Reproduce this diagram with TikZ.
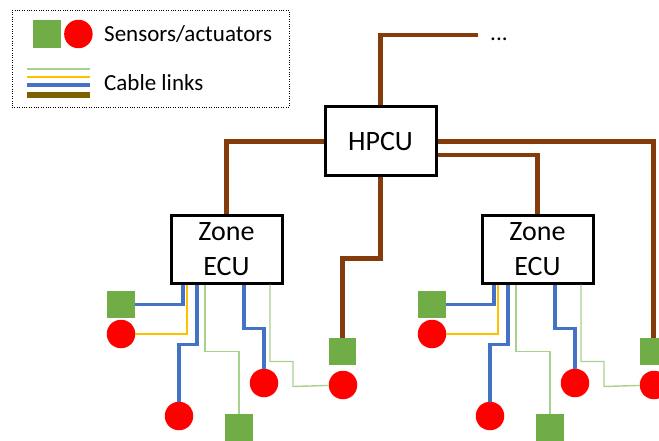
\documentclass[tikz,border=0pt]{standalone}
\usepackage{fontspec}
\setmainfont{Carlito}
\usetikzlibrary{positioning,calc}
\definecolor{zcSensor}{HTML}{70AD47}
\definecolor{zcActuator}{HTML}{FF0000}
\definecolor{zcEth}{HTML}{4472C4}
\definecolor{zcCan}{HTML}{FFC000}
\definecolor{zcLin}{HTML}{A9D18E}
\definecolor{zcBackbone}{HTML}{843C0C}
\definecolor{zcLegendBrown}{HTML}{7F6000}
\tikzset{
  ecu/.style={
    draw, line width=3pt, fill=white, align=center, inner sep=0pt,
    font=\fontsize{28}{35}\selectfont
  },
  zonebox/.style={ecu, minimum width=111, minimum height=68},
  hpcubox/.style={ecu, minimum width=111, minimum height=69},
  sensor/.style={rectangle, fill=zcSensor, minimum size=27.5, inner sep=0pt},
  actuator/.style={circle, fill=zcActuator, minimum size=28.5, inner sep=0pt},
  legendtext/.style={font=\fontsize{23}{27}\selectfont, inner sep=0pt, anchor=base west},
  backbone/.style={zcBackbone, line width=4.5pt},
  ethlink/.style={zcEth, line width=3.5pt},
  canlink/.style={zcCan, line width=1.4pt},
  linlink/.style={zcLin, line width=1.4pt}
}
\begin{document}
\begin{tikzpicture}[x=1pt, y=-1pt]
  \useasboundingbox (0,0) rectangle (659,441);

  % legend
  \node[draw, dotted, thin, minimum width=277, minimum height=97, inner sep=0pt] (legend) at (150.5,58.5) {};
  \node[sensor] (lgsq) at (47,34) {};
  \node[actuator, right=3pt of lgsq] (lgci) {};
  \node[legendtext] (lgsa) at (104,42) {Sensors/actuators};
  \draw[linlink] (27,69) -- (90,69);
  \draw[canlink] (27,77) -- (90,77);
  \draw[ethlink, line width=4pt] (27,85) -- (90,85);
  \draw[zcLegendBrown, line width=6pt] (27,95) -- (90,95);
  \node[legendtext] (lgcl) at (104,91) {Cable links};

  % central unit
  \node[hpcubox] (hpcu) at (380.5,141.5) {HPCU};
  \coordinate (more) at (478,35);
  \node[legendtext] (dots) at (490,41) {...};
  \draw[backbone] (hpcu.north) |- (more);

  % two zones
  \foreach \dx/\z in {0/a,311/b} {
    \node[zonebox] (zone\z) at (\dx+226.5,249) {Zone\\ECU};
    \node[sensor] (s1\z) at (\dx+121,304.5) {};
    \node[actuator] (r1\z) at (\dx+121,334) {};
    \node[actuator] (r2\z) at (\dx+179,416) {};
    \node[sensor] (s2\z) at (\dx+239,428) {};
    \node[actuator] (r3\z) at (\dx+264,383) {};
    \node[actuator] (r4\z) at (\dx+343,385) {};
    \node[sensor] (s3\z) at (\dx+342.5,351.5) {};
    \draw[ethlink] (s1\z.east) -| ([xshift=-43.5]zone\z.south);
    \draw[canlink] (r1\z.east) -| ([xshift=-39.5]zone\z.south);
    \draw[ethlink] ([xshift=-29.5]zone\z.south) -- ++(0,60) -| (r2\z);
    \draw[linlink] ([xshift=-21.5]zone\z.south) -- ++(0,67) -| (s2\z);
    \draw[ethlink] ([xshift=17.5]zone\z.south) -- ++(0,44) -| (r3\z);
    \draw[linlink] ([xshift=43.5]zone\z.south) -- ++(0,77) -| ++(23,25) -- (r4\z);
  }

  % backbone to the zones
  \draw[backbone] (hpcu.west) -| (zonea.north);
  \draw[backbone] ([yshift=-13.5]hpcu.east) -| (zoneb.north);
  \draw[backbone] (hpcu.east) -| (s3b);
  \draw[backbone] (hpcu.south) -- ++(0,81) -| (s3a);
\end{tikzpicture}
\end{document}
